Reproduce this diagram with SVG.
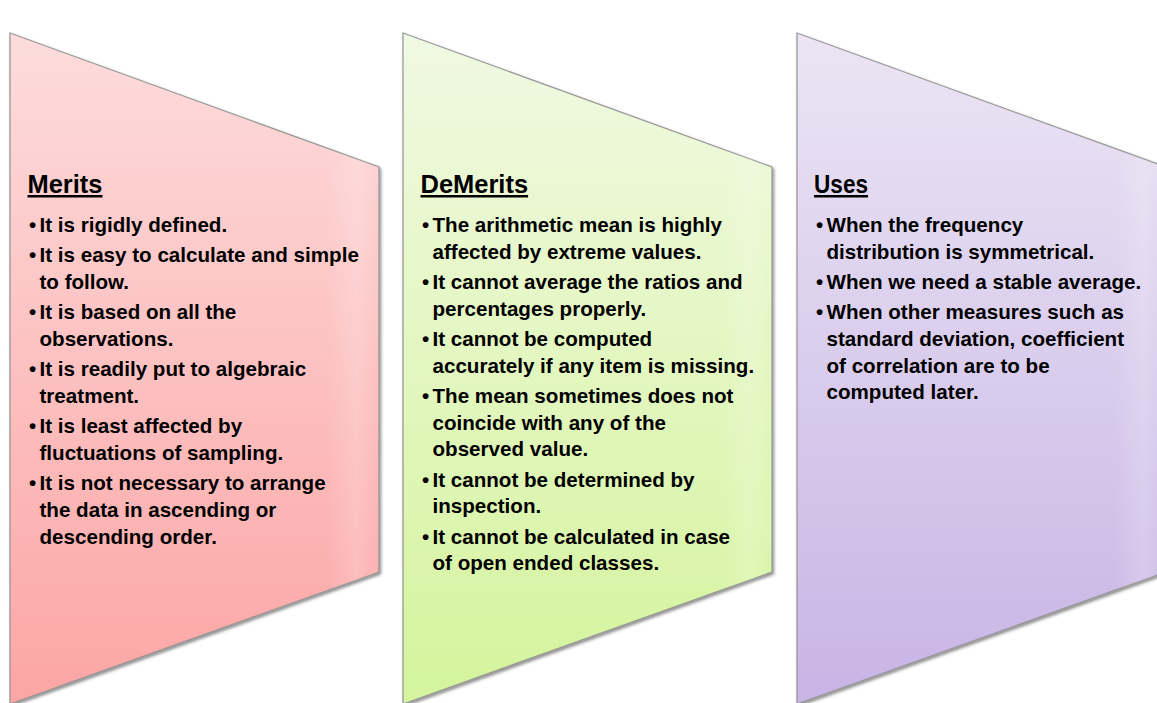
<svg xmlns="http://www.w3.org/2000/svg" width="1157" height="703" viewBox="0 0 1157 703">
  <style>
    .panel { stroke: #8d8d8d; stroke-width: 1.3; stroke-opacity: 0.85; filter: url(#shadow); }
    .title { font-family: "Liberation Sans", Arial, sans-serif; font-weight: bold; font-size: 25px; fill: #000; text-decoration: underline; }
    .body { font-family: "Liberation Sans", Arial, sans-serif; font-weight: bold; font-size: 20.6px; fill: #000; }
  </style>
  <defs>
    <filter id="shadow" x="-10%" y="-10%" width="125%" height="125%">
      <feDropShadow dx="1.5" dy="2" stdDeviation="1.6" flood-color="#000" flood-opacity="0.45"/>
    </filter>
    <linearGradient id="gRed" x1="0" y1="0" x2="0" y2="1">
      <stop offset="0" stop-color="#fddcdc"/>
      <stop offset="1" stop-color="#fca5a5"/>
    </linearGradient>
    <linearGradient id="gGreen" x1="0" y1="0" x2="0" y2="1">
      <stop offset="0" stop-color="#f1f9e3"/>
      <stop offset="1" stop-color="#d4f49c"/>
    </linearGradient>
    <linearGradient id="gPurple" x1="0" y1="0" x2="0" y2="1">
      <stop offset="0" stop-color="#ebe5f4"/>
      <stop offset="1" stop-color="#c8b4e5"/>
    </linearGradient>
    <linearGradient id="gSheen" x1="0" y1="0" x2="1" y2="0">
      <stop offset="0" stop-color="#ffffff" stop-opacity="0"/>
      <stop offset="0.86" stop-color="#ffffff" stop-opacity="0"/>
      <stop offset="0.94" stop-color="#ffffff" stop-opacity="0.18"/>
      <stop offset="1" stop-color="#ffffff" stop-opacity="0"/>
    </linearGradient>
  </defs>

  <rect x="0" y="0" width="1157" height="703" fill="#ffffff"/>

  <g id="connectors"></g>

  <g id="merits">
    <polygon class="panel" points="10,33 379,167 379,572 10,704" fill="url(#gRed)"/>
    <polygon points="10,33 379,167 379,572 10,704" fill="url(#gSheen)"/>
    <text class="title" x="27.5" y="193" textLength="75" lengthAdjust="spacingAndGlyphs">Merits</text>
    <text class="body">
      <tspan x="29" y="232">•</tspan>
      <tspan x="29" y="262.3">•</tspan>
      <tspan x="29" y="319.3">•</tspan>
      <tspan x="29" y="376.3">•</tspan>
      <tspan x="29" y="433.3">•</tspan>
      <tspan x="29" y="490.3">•</tspan>
    </text>
    <text class="body">
      <tspan x="39.5" y="232">It is rigidly defined.</tspan>
      <tspan x="39.5" y="262.3">It is easy to calculate and simple</tspan>
      <tspan x="39.5" y="289">to follow.</tspan>
      <tspan x="39.5" y="319.3">It is based on all the</tspan>
      <tspan x="39.5" y="346">observations.</tspan>
      <tspan x="39.5" y="376.3">It is readily put to algebraic</tspan>
      <tspan x="39.5" y="403">treatment.</tspan>
      <tspan x="39.5" y="433.3">It is least affected by</tspan>
      <tspan x="39.5" y="460">fluctuations of sampling.</tspan>
      <tspan x="39.5" y="490.3">It is not necessary to arrange</tspan>
      <tspan x="39.5" y="517">the data in ascending or</tspan>
      <tspan x="39.5" y="543.7">descending order.</tspan>
    </text>
  </g>

  <g id="demerits">
    <polygon class="panel" points="403,33 772,167 772,572 403,704" fill="url(#gGreen)"/>
    <polygon points="403,33 772,167 772,572 403,704" fill="url(#gSheen)"/>
    <text class="title" x="420.5" y="193" textLength="107.6" lengthAdjust="spacingAndGlyphs">DeMerits</text>
    <text class="body">
      <tspan x="422" y="232">•</tspan>
      <tspan x="422" y="289">•</tspan>
      <tspan x="422" y="346">•</tspan>
      <tspan x="422" y="403">•</tspan>
      <tspan x="422" y="486.7">•</tspan>
      <tspan x="422" y="543.7">•</tspan>
    </text>
    <text class="body">
      <tspan x="432.5" y="232">The arithmetic mean is highly</tspan>
      <tspan x="432.5" y="258.7">affected by extreme values.</tspan>
      <tspan x="432.5" y="289">It cannot average the ratios and</tspan>
      <tspan x="432.5" y="315.7">percentages properly.</tspan>
      <tspan x="432.5" y="346">It cannot be computed</tspan>
      <tspan x="432.5" y="372.7">accurately if any item is missing.</tspan>
      <tspan x="432.5" y="403">The mean sometimes does not</tspan>
      <tspan x="432.5" y="429.7">coincide with any of the</tspan>
      <tspan x="432.5" y="456.3">observed value.</tspan>
      <tspan x="432.5" y="486.7">It cannot be determined by</tspan>
      <tspan x="432.5" y="513.3">inspection.</tspan>
      <tspan x="432.5" y="543.7">It cannot be calculated in case</tspan>
      <tspan x="432.5" y="570.3">of open ended classes.</tspan>
    </text>
  </g>

  <g id="uses">
    <polygon class="panel" points="797,33 1166,167 1166,572 797,704" fill="url(#gPurple)"/>
    <polygon points="797,33 1166,167 1166,572 797,704" fill="url(#gSheen)"/>
    <text class="title" x="814" y="193" textLength="54" lengthAdjust="spacingAndGlyphs">Uses</text>
    <text class="body">
      <tspan x="816" y="232">•</tspan>
      <tspan x="816" y="289">•</tspan>
      <tspan x="816" y="319.3">•</tspan>
    </text>
    <text class="body">
      <tspan x="826.5" y="232">When the frequency</tspan>
      <tspan x="826.5" y="258.7">distribution is symmetrical.</tspan>
      <tspan x="826.5" y="289">When we need a stable average.</tspan>
      <tspan x="826.5" y="319.3">When other measures such as</tspan>
      <tspan x="826.5" y="346">standard deviation, coefficient</tspan>
      <tspan x="826.5" y="372.7">of correlation are to be</tspan>
      <tspan x="826.5" y="399.3">computed later.</tspan>
    </text>
  </g>
</svg>
